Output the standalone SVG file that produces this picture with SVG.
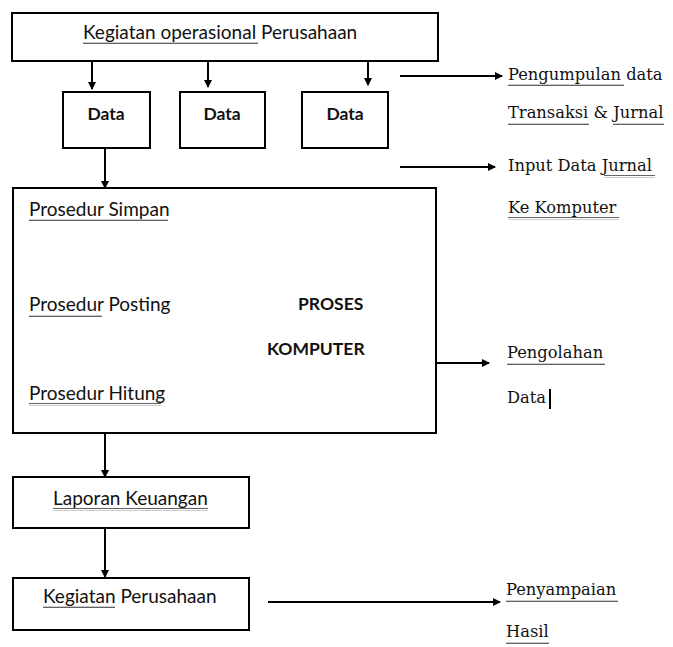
<svg xmlns="http://www.w3.org/2000/svg" width="673" height="647" viewBox="0 0 673 647">
<style>
.box{fill:#fff;stroke:#000;stroke-width:2}
.sans{font-family:Lato,"Liberation Sans",sans-serif;font-size:19px;fill:#111}
.bold{font-weight:bold;font-size:17.5px}
.serif{font-family:"DejaVu Serif","Liberation Serif",serif;font-size:16.3px;fill:#111}
.c{text-anchor:middle}
.ln{stroke:#000;stroke-width:2;fill:none}
.wv{fill:url(#wave)}
</style>
<defs>
<marker id="ah" markerWidth="8" markerHeight="8" refX="7" refY="4" orient="auto" markerUnits="userSpaceOnUse">
<path d="M0,0 L8,4 L0,8 Z" fill="#000"/>
</marker>
<pattern id="wave" width="4" height="3" patternUnits="userSpaceOnUse">
<path d="M0,2 L1,0.7 L2,2 L3,0.7 L4,2" fill="none" stroke="#222" stroke-width="0.8"/>
</pattern>
</defs>
<rect width="673" height="647" fill="#fff"/>

<g id="connectors">
<line class="ln" x1="92" y1="61" x2="92" y2="89" marker-end="url(#ah)"/>
<line class="ln" x1="208" y1="61" x2="208" y2="87" marker-end="url(#ah)"/>
<line class="ln" x1="368" y1="61" x2="368" y2="85" marker-end="url(#ah)"/>
<line class="ln" x1="400" y1="76" x2="502" y2="76" marker-end="url(#ah)"/>
<line class="ln" x1="105" y1="148" x2="105" y2="188" marker-end="url(#ah)"/>
<line class="ln" x1="400" y1="167" x2="495" y2="167" marker-end="url(#ah)"/>
<line class="ln" x1="105" y1="220" x2="105" y2="252" marker-end="url(#ah)"/>
<line class="ln" x1="105" y1="318" x2="105" y2="371" marker-end="url(#ah)"/>
<line class="ln" x1="436" y1="363" x2="489" y2="363" marker-end="url(#ah)"/>
<line class="ln" x1="105" y1="433" x2="105" y2="477" marker-end="url(#ah)"/>
<line class="ln" x1="105" y1="528" x2="105" y2="577" marker-end="url(#ah)"/>
<line class="ln" x1="268" y1="602" x2="500" y2="602" marker-end="url(#ah)"/>
</g>

<g id="kegiatan-operasional">
<rect class="box" x="12" y="13" width="426" height="48"/>
<text class="sans" x="83" y="39">Kegiatan operasional Perusahaan</text>
<rect class="wv" x="83" y="42" width="175" height="3"/>
</g>

<g id="data1">
<rect class="box" x="63" y="92" width="87" height="56"/>
<text class="sans bold c" x="106" y="120">Data</text>
</g>
<g id="data2">
<rect class="box" x="180" y="92" width="85" height="56"/>
<text class="sans bold c" x="222" y="120">Data</text>
</g>
<g id="data3">
<rect class="box" x="302" y="92" width="86" height="56"/>
<text class="sans bold c" x="345" y="120">Data</text>
</g>

<g id="proses-komputer">
<rect class="box" x="13" y="188" width="423" height="245"/>
<text class="sans" x="29" y="216">Prosedur Simpan</text>
<rect class="wv" x="29" y="219" width="139" height="3"/>
<text class="sans" x="29" y="311">Prosedur Posting</text>
<rect class="wv" x="29" y="314" width="73" height="3"/>
<text class="sans" x="29" y="400">Prosedur Hitung</text>
<rect class="wv" x="29" y="403" width="132" height="3"/>
<text class="sans bold" x="298" y="310">PROSES</text>
<text class="sans bold" x="267" y="355">KOMPUTER</text>
</g>

<g id="laporan-keuangan">
<rect class="box" x="13" y="477" width="236" height="51"/>
<text class="sans" x="53" y="505">Laporan Keuangan</text>
<rect class="wv" x="53" y="508" width="155" height="3"/>
</g>

<g id="kegiatan-perusahaan">
<rect class="box" x="13" y="578" width="236" height="52"/>
<text class="sans" x="43" y="603">Kegiatan Perusahaan</text>
<rect class="wv" x="43" y="606" width="72" height="3"/>
</g>

<g id="label-pengumpulan">
<text class="serif" x="508" y="80">Pengumpulan data</text>
<rect class="wv" x="508" y="84" width="116" height="3"/>
<text class="serif" x="508" y="118">Transaksi &amp; Jurnal</text>
<rect class="wv" x="508" y="122" width="81" height="3"/>
<rect class="wv" x="613" y="122" width="51" height="3"/>
</g>

<g id="label-input">
<text class="serif" x="508" y="171">Input Data Jurnal</text>
<rect class="wv" x="604" y="175" width="51" height="3"/>
<text class="serif" x="508" y="213">Ke Komputer</text>
<rect class="wv" x="508" y="217" width="111" height="3"/>
</g>

<g id="label-pengolahan">
<text class="serif" x="507" y="358">Pengolahan</text>
<rect class="wv" x="507" y="362" width="98" height="3"/>
<text class="serif" x="507" y="403">Data</text>
<line x1="550" y1="389" x2="550" y2="409" stroke="#000" stroke-width="2"/>
</g>

<g id="label-penyampaian">
<text class="serif" x="506" y="595">Penyampaian</text>
<rect class="wv" x="506" y="599" width="112" height="3"/>
<text class="serif" x="506" y="637">Hasil</text>
<rect class="wv" x="506" y="641" width="43" height="3"/>
</g>
</svg>
